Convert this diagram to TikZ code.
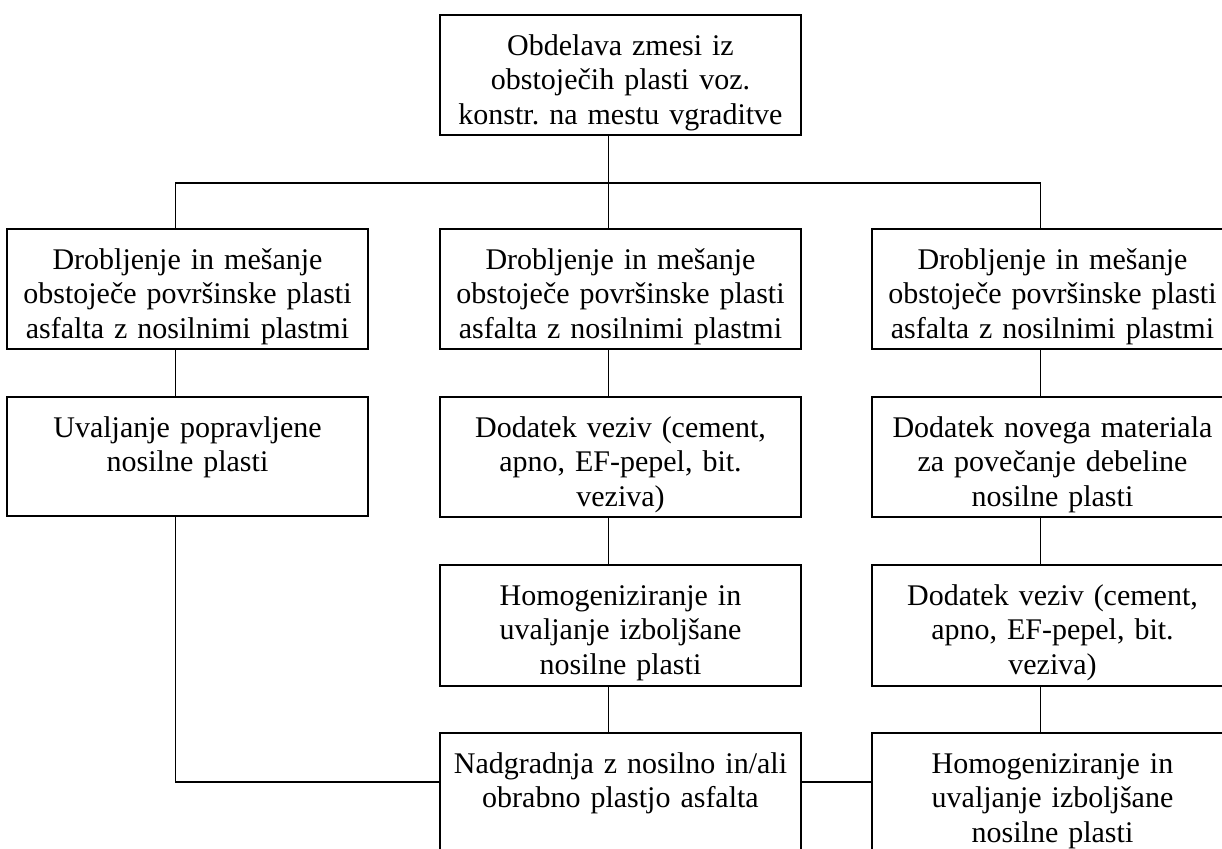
\documentclass[tikz,border=0pt]{standalone}
\usepackage{fontspec}
\setmainfont{Liberation Serif}
\usetikzlibrary{fit}
\frenchspacing
\newcommand\mybox[6]{%
  \node[box, fit={(#2,#3) (#4,#5)}] (#1) {};
  \node[txt] (#1t) at ([yshift=-8pt]#1.north) {\rule{0pt}{12pt}#6};%
}
\begin{document}
\begin{tikzpicture}[x=0.5pt,y=-0.5pt,
  box/.style={draw, line width=0.95pt, inner sep=0pt, outer sep=0pt},
  txt/.style={anchor=north, inner sep=0pt, text width=178pt, align=center,
    font=\fontsize{15pt}{17.2pt}\selectfont\frenchspacing},
  conn/.style={draw, line width=0.95pt}]
\useasboundingbox (0,0) rectangle (1222,848);
\clip (0,0) rectangle (1222,848);

\mybox{top}{440}{15}{801}{135}{Obdelava zmesi iz\\ obstoječih plasti voz.\\ konstr. na mestu vgraditve}
\mybox{L2}{7}{229}{368}{349}{Drobljenje in mešanje\\ obstoječe površinske plasti\\ asfalta z nosilnimi plastmi}
\mybox{M2}{440}{229}{801}{349}{Drobljenje in mešanje\\ obstoječe površinske plasti\\ asfalta z nosilnimi plastmi}
\mybox{R2}{872}{229}{1233}{349}{Drobljenje in mešanje\\ obstoječe površinske plasti\\ asfalta z nosilnimi plastmi}
\mybox{L3}{7}{397}{368}{516}{Uvaljanje popravljene\\ nosilne plasti}
\mybox{M3}{440}{397}{801}{517}{Dodatek veziv (cement,\\ apno, EF-pepel, bit.\\ veziva)}
\mybox{R3}{872}{397}{1233}{517}{Dodatek novega materiala\\ za povečanje debeline\\ nosilne plasti}
\mybox{M4}{440}{565}{801}{686}{Homogeniziranje in\\ uvaljanje izboljšane\\ nosilne plasti}
\mybox{R4}{872}{565}{1233}{686}{Dodatek veziv (cement,\\ apno, EF-pepel, bit.\\ veziva)}
\mybox{M5}{440}{733}{801}{880}{Nadgradnja z nosilno in/ali\\ obrabno plastjo asfalta}
\mybox{R5}{872}{733}{1233}{880}{Homogeniziranje in\\ uvaljanje izboljšane\\ nosilne plasti}

\draw[conn] ([xshift=-6pt]top.south) -- ([xshift=-6pt]M2.north);
\draw[conn] ([xshift=-6pt]L2.north) -- ++(0,-46) -| ([xshift=-6pt]R2.north);
\draw[conn] ([xshift=-6pt]L2.south) -- ([xshift=-6pt]L3.north);
\draw[conn] ([xshift=-6pt]M2.south) -- ([xshift=-6pt]M3.north);
\draw[conn] ([xshift=-6pt]M3.south) -- ([xshift=-6pt]M4.north);
\draw[conn] ([xshift=-6pt]M4.south) -- ([xshift=-6pt]M5.north);
\draw[conn] ([xshift=-6pt]R2.south) -- ([xshift=-6pt]R3.north);
\draw[conn] ([xshift=-6pt]R3.south) -- ([xshift=-6pt]R4.north);
\draw[conn] ([xshift=-6pt]R4.south) -- ([xshift=-6pt]R5.north);
\draw[conn] ([xshift=-6pt]L3.south) |- ([yshift=-24.5pt]M5.north west);
\draw[conn] ([yshift=-24.5pt]M5.north east) -- ([yshift=-24.5pt]R5.north west);
\end{tikzpicture}
\end{document}
